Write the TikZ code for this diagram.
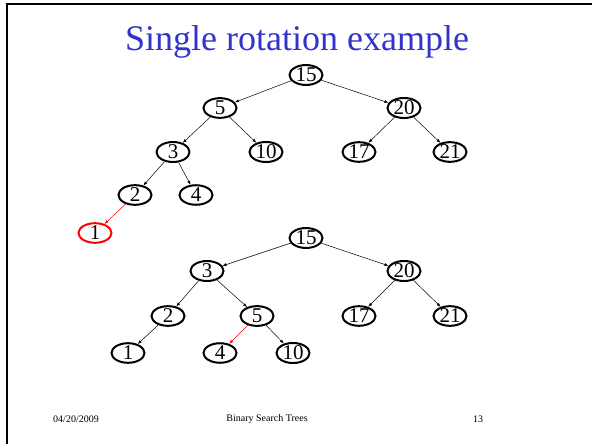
\documentclass[tikz,border=0pt]{standalone}
\usepackage{fontspec}
\setmainfont{Liberation Serif}
\usetikzlibrary{shapes.geometric,arrows.meta}
\definecolor{titleblue}{RGB}{51,51,204}
\tikzset{
  tnode/.style={ellipse,draw=black,line width=2pt,minimum width=33pt,minimum height=18pt,inner sep=0pt,font=\fontsize{21}{21}\selectfont},
  rnode/.style={tnode,draw=red},
  edge/.style={draw=black,line width=0.5pt,-{Latex[length=4pt,width=3pt]}},
  redge/.style={edge,draw=red,-{Latex[length=4pt,width=3pt,red]}},
  foot/.style={font=\fontsize{10}{10}\selectfont}
}
\begin{document}
\begin{tikzpicture}[x=1pt,y=-1pt]
\useasboundingbox (0,0) rectangle (592,444);
\fill[white] (0,0) rectangle (592,444);
\draw[line width=2pt] (7,444) -- (7,4) -- (592,4);
\node (title) at (297,42) {\fontsize{36}{36}\selectfont\color{titleblue}Single rotation example};
% top tree
\node[tnode] (a15) at (306,75) {15};
\node[tnode] (a5) at (220,108) {5};
\node[tnode] (a20) at (404,108) {20};
\node[tnode] (a3) at (173,152) {3};
\node[tnode] (a10) at (266,152) {10};
\node[tnode] (a17) at (359,152) {17};
\node[tnode] (a21) at (450,152) {21};
\node[tnode] (a2) at (135,195) {2};
\node[tnode] (a4) at (196,195) {4};
\node[rnode] (a1) at (95,233) {1};
\draw[edge] (a15) -- (a5);
\draw[edge] (a15) -- (a20);
\draw[edge] (a5) -- (a3);
\draw[edge] (a5) -- (a10);
\draw[edge] (a20) -- (a17);
\draw[edge] (a20) -- (a21);
\draw[edge] (a3) -- (a2);
\draw[edge] (a3) -- (a4);
\draw[redge] (a2) -- (a1);
% bottom tree
\node[tnode] (b15) at (306,238) {15};
\node[tnode] (b3) at (207,271) {3};
\node[tnode] (b20) at (404,271) {20};
\node[tnode] (b2) at (168,316) {2};
\node[tnode] (b5) at (257,316) {5};
\node[tnode] (b17) at (359,316) {17};
\node[tnode] (b21) at (450,316) {21};
\node[tnode] (b1) at (128,353) {1};
\node[tnode] (b4) at (220,353) {4};
\node[tnode] (b10) at (293,353) {10};
\draw[edge] (b15) -- (b3);
\draw[edge] (b15) -- (b20);
\draw[edge] (b3) -- (b2);
\draw[edge] (b3) -- (b5);
\draw[edge] (b20) -- (b17);
\draw[edge] (b20) -- (b21);
\draw[edge] (b2) -- (b1);
\draw[redge] (b5) -- (b4);
\draw[edge] (b5) -- (b10);
% footer
\node[foot] (date) at (76,419) {04/20/2009};
\node[foot] (ftitle) at (267,419) {Binary Search Trees};
\node[foot] (page) at (478,419) {13};
\end{tikzpicture}
\end{document}
